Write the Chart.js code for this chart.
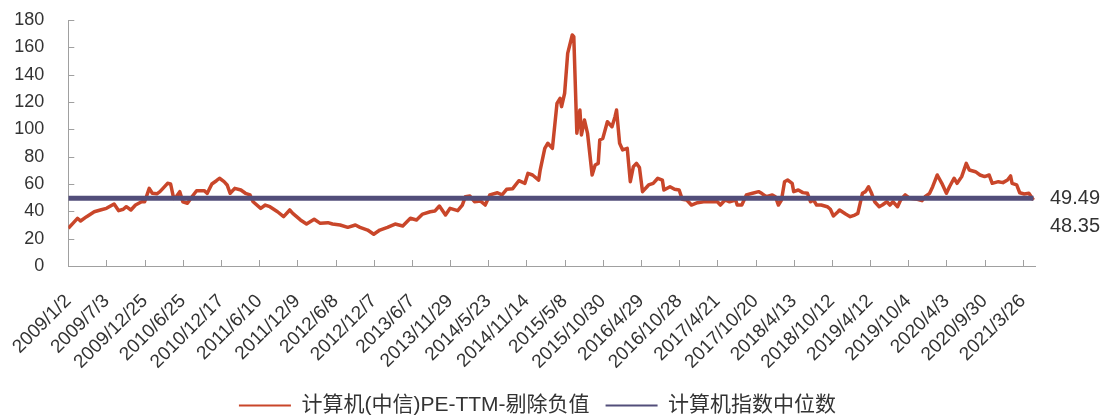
<!DOCTYPE html>
<html>
<head>
<meta charset="utf-8">
<script src="https://cdn.jsdelivr.net/npm/chart.js@4.4.1/dist/chart.umd.min.js"></script>
<style>
  html, body { margin: 0; padding: 0; background: #fff; }
</style>
</head>
<body>
<canvas id="chart" width="1107" height="419"></canvas>
<script>
// x 轴标签（每 25 个交易周一个）
const tickLabels = [
  '2009/1/2', '2009/7/3', '2009/12/25', '2010/6/25', '2010/12/17', '2011/6/10',
  '2011/12/9', '2012/6/8', '2012/12/7', '2013/6/7', '2013/11/29', '2014/5/23',
  '2014/11/14', '2015/5/8', '2015/10/30', '2016/4/29', '2016/10/28', '2017/4/21',
  '2017/10/20', '2018/4/13', '2018/10/12', '2019/4/12', '2019/10/4', '2020/4/3',
  '2020/9/30', '2021/3/26'
];

// 周序号（从 2009/1/2 起）
const weeks = [
  0, 3, 6, 8, 12, 17, 21, 25, 30, 33,
  36, 38, 41, 44, 48, 50, 53, 55, 58, 60,
  62, 65, 67, 69, 71, 73, 75, 78, 81, 84,
  89, 91, 94, 97, 99, 102, 104, 106, 109, 113,
  116, 119, 121, 126, 129, 132, 137, 141, 145, 147,
  152, 156, 161, 165, 170, 173, 178, 183, 188, 191,
  196, 200, 204, 209, 214, 219, 224, 228, 232, 237,
  240, 243, 247, 250, 255, 258, 260, 263, 266, 270,
  273, 276, 281, 284, 287, 291, 295, 299, 301, 304,
  308, 309, 312, 314, 317, 320, 322, 323, 325, 327,
  330, 331, 333, 335, 336, 338, 340, 343, 345, 347,
  348, 350, 353, 356, 358, 359, 361, 363, 366, 368,
  370, 372, 374, 376, 380, 383, 386, 389, 390, 394,
  397, 400, 402, 405, 408, 412, 416, 420, 425, 427,
  430, 433, 437, 438, 441, 444, 448, 452, 454, 457,
  461, 463, 465, 467, 469, 471, 474, 475, 478, 481,
  484, 486, 488, 490, 493, 497, 499, 501, 504, 505,
  509, 512, 515, 517, 520, 522, 524, 526, 528, 531,
  533, 536, 538, 540, 543, 545, 548, 551, 556, 559,
  561, 564, 566, 569, 572, 575, 577, 580, 582, 585,
  588, 590, 594, 597, 600, 603, 605, 609, 612, 615,
  617, 618, 621, 623, 626, 629, 632
];

// 计算机(中信)PE-TTM-剔除负值
const peValues = [
  27.6, 31.2, 34.9, 32.9, 36.1, 39.7, 41.0, 42.2, 45.4, 40.5,
  41.5, 43.4, 41.0, 44.6, 47.0, 47.0, 56.8, 53.2, 52.8, 54.4,
  56.8, 60.5, 60.0, 49.5, 51.2, 54.4, 47.0, 45.9, 50.7, 55.1,
  55.1, 53.2, 60.0, 62.4, 64.2, 61.7, 59.3, 53.2, 56.8, 55.6,
  53.2, 52.0, 47.0, 42.2, 44.6, 43.4, 39.7, 36.1, 41.0, 38.5,
  33.7, 30.7, 34.2, 31.2, 31.7, 30.7, 30.0, 28.3, 30.0, 28.3,
  26.3, 23.2, 26.3, 28.3, 30.7, 29.3, 34.9, 33.7, 38.0, 39.7,
  40.2, 43.9, 37.3, 42.2, 40.5, 44.6, 50.7, 51.2, 47.0, 47.5,
  44.6, 52.0, 53.6, 52.0, 56.1, 56.6, 62.4, 60.5, 67.8, 66.6,
  62.9, 70.2, 86.1, 89.8, 86.1, 119.0, 122.7, 116.6, 126.4, 155.6,
  169.0, 167.8, 97.1, 114.1, 95.9, 106.8, 97.1, 66.6, 73.9, 75.1,
  92.2, 93.4, 105.6, 101.9, 109.2, 114.1, 89.8, 84.9, 86.1, 61.7,
  72.7, 75.1, 72.0, 54.4, 59.3, 60.5, 64.2, 62.9, 55.6, 58.0,
  56.1, 55.6, 48.8, 48.3, 44.6, 46.3, 47.0, 47.0, 47.0, 44.6,
  48.3, 47.0, 48.3, 44.6, 44.6, 52.0, 53.2, 54.4, 53.2, 50.7,
  52.0, 50.7, 44.6, 48.3, 61.7, 62.9, 60.5, 54.4, 55.6, 53.7,
  53.2, 47.0, 48.3, 44.6, 44.6, 43.4, 41.5, 36.6, 39.7, 41.0,
  38.0, 36.1, 37.3, 38.5, 53.2, 54.4, 58.0, 53.2, 47.0, 43.4,
  44.6, 47.0, 44.6, 47.0, 43.4, 48.3, 52.0, 49.5, 48.8, 47.8,
  50.7, 53.2, 58.0, 66.6, 60.5, 53.2, 58.0, 64.2, 60.5, 65.4,
  75.1, 70.2, 69.0, 66.6, 65.4, 66.6, 60.5, 61.7, 61.0, 62.9,
  65.9, 60.5, 59.3, 53.6, 52.7, 53.2, 48.35
];

// 计算机指数中位数
const medianValue = 49.49;
const latestValue = peValues[peValues.length - 1];

const FONT = '"Liberation Sans", "Noto Sans CJK SC", sans-serif';
const AXIS_COLOR = '#a0a0a0';
const TEXT_COLOR = '#333333';

Chart.defaults.font.family = FONT;
Chart.defaults.color = TEXT_COLOR;

// 向内的刻度线
const innerTicks = {
  id: 'innerTicks',
  afterDraw(chart) {
    const { ctx, chartArea, scales: { x, y } } = chart;
    ctx.save();
    ctx.strokeStyle = AXIS_COLOR;
    ctx.lineWidth = 1;
    ctx.beginPath();
    x.ticks.forEach((t) => {
      const px = Math.round(x.getPixelForValue(t.value)) + 0.5;
      ctx.moveTo(px, chartArea.bottom);
      ctx.lineTo(px, chartArea.bottom - 6);
    });
    y.ticks.forEach((t) => {
      const py = Math.round(y.getPixelForValue(t.value)) + 0.5;
      ctx.moveTo(chartArea.left, py);
      ctx.lineTo(chartArea.left + 6, py);
    });
    ctx.stroke();
    ctx.restore();
  },
};

// 右侧数值标注
const endLabels = {
  id: 'endLabels',
  afterDraw(chart) {
    const { ctx, chartArea, scales: { y } } = chart;
    const yPos = y.getPixelForValue(medianValue);
    ctx.save();
    ctx.font = '20px ' + FONT;
    ctx.fillStyle = TEXT_COLOR;
    ctx.textBaseline = 'middle';
    ctx.fillText(medianValue.toFixed(2), chartArea.right + 15, yPos);
    ctx.fillText(latestValue.toFixed(2), chartArea.right + 15, yPos + 28);
    ctx.restore();
  },
};

new Chart(document.getElementById('chart').getContext('2d'), {
  type: 'line',
  data: {
    datasets: [
      {
        label: '计算机(中信)PE-TTM-剔除负值',
        data: weeks.map((w, i) => ({ x: w, y: peValues[i] })),
        borderColor: '#c9462a',
        backgroundColor: '#c9462a',
        borderWidth: 3.5,
        pointRadius: 0,
        tension: 0,
        borderJoinStyle: 'round',
        order: 2,
      },
      {
        label: '计算机指数中位数',
        data: [
          { x: weeks[0], y: medianValue },
          { x: weeks[weeks.length - 1], y: medianValue },
        ],
        borderColor: '#524e7a',
        backgroundColor: '#524e7a',
        borderWidth: 5,
        pointRadius: 0,
        order: 1,
      },
    ],
  },
  options: {
    responsive: false,
    animation: false,
    layout: { padding: { top: 20, right: 32, bottom: -7, left: 0 } },
    plugins: {
      tooltip: { enabled: false },
      legend: {
        position: 'bottom',
        labels: {
          usePointStyle: true,
          pointStyle: 'line',
          pointStyleWidth: 52,
          padding: 16,
          color: TEXT_COLOR,
          font: { size: 21 },
          sort: (a, b) => a.datasetIndex - b.datasetIndex,
          generateLabels: (chart) =>
            Chart.defaults.plugins.legend.labels.generateLabels(chart).map((item) => ({
              ...item,
              lineWidth: 2,
            })),
        },
      },
    },
    scales: {
      x: {
        type: 'linear',
        min: 0,
        max: 633,
        afterBuildTicks: (scale) => {
          scale.ticks = tickLabels.map((_, i) => ({ value: i * 25 }));
        },
        afterFit: (scale) => {
          scale.height = 113;
        },
        grid: { display: false },
        border: { display: true, color: AXIS_COLOR, width: 1 },
        ticks: {
          autoSkip: false,
          minRotation: 45,
          maxRotation: 45,
          padding: 16,
          color: TEXT_COLOR,
          font: { size: 19 },
          callback: (value, index) => tickLabels[index],
        },
      },
      y: {
        min: 0,
        max: 180,
        afterFit: (scale) => {
          scale.width = 68;
        },
        grid: {
          display: true,
          drawOnChartArea: false,
          drawTicks: true,
          tickLength: 20,
          color: 'rgba(0,0,0,0)',
        },
        border: { display: true, color: AXIS_COLOR, width: 1 },
        ticks: {
          stepSize: 20,
          padding: 4,
          color: TEXT_COLOR,
          font: { size: 18 },
        },
      },
      // 右侧留白，给数值标注
      yRight: {
        position: 'right',
        afterFit: (scale) => {
          scale.width = 40;
        },
        grid: { display: false },
        border: { display: false },
        ticks: { display: false },
      },
    },
  },
  plugins: [innerTicks, endLabels],
});
</script>
</body>
</html>
